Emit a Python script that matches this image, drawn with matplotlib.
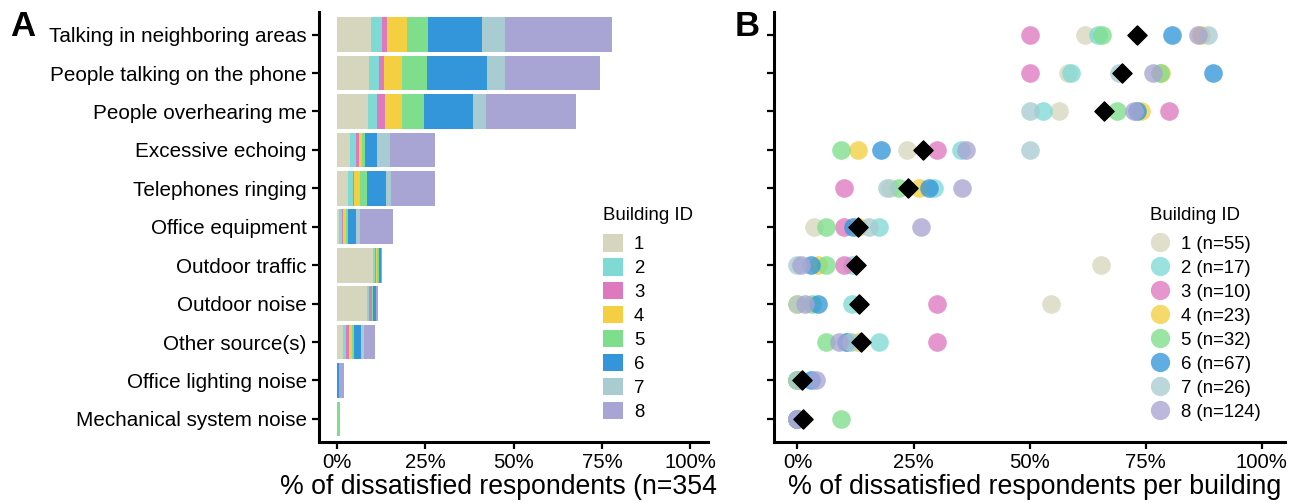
import matplotlib
matplotlib.use("Agg")
import matplotlib.pyplot as plt
from matplotlib.patches import Patch
from matplotlib.lines import Line2D
import numpy as np

plt.rcParams['font.family'] = ['Liberation Sans', 'DejaVu Sans']

# noise sources, top to bottom
sources = [
    "Talking in neighboring areas",
    "People talking on the phone",
    "People overhearing me",
    "Excessive echoing",
    "Telephones ringing",
    "Office equipment",
    "Outdoor traffic",
    "Outdoor noise",
    "Other source(s)",
    "Office lighting noise",
    "Mechanical system noise",
]

building_ids = ["1", "2", "3", "4", "5", "6", "7", "8"]
building_n = [55, 17, 10, 23, 32, 67, 26, 124]
building_colors = ["#D6D6BE", "#7FD9D4", "#DE79BF", "#F3CF41",
                   "#7EDE8B", "#3396DA", "#A8CCD1", "#A8A4D3"]

# dissatisfied respondents per source (rows) and building (columns 1..8)
dissatisfied_counts = [
    [34, 11, 5, 20, 21, 54, 23, 107],
    [32, 10, 5, 18, 25, 60, 18, 95],
    [31, 9, 8, 17, 22, 49, 13, 90],
    [13, 6, 3, 3, 3, 12, 13, 45],
    [11, 5, 1, 6, 7, 19, 5, 44],
    [2, 3, 1, 3, 2, 8, 4, 33],
    [36, 2, 1, 1, 2, 2, 0, 1],
    [30, 2, 3, 0, 1, 3, 0, 2],
    [6, 3, 3, 3, 2, 7, 3, 11],
    [0, 0, 0, 0, 0, 2, 0, 5],
    [0, 0, 0, 0, 3, 0, 0, 0],
]

counts = np.array(dissatisfied_counts, dtype=float)
n_total = sum(building_n)
pct_total = counts / n_total * 100
pct_building = counts / np.array(building_n) * 100
pct_mean = pct_building.mean(axis=1)

y = np.arange(len(sources))

fig = plt.figure(figsize=(13.03, 5.03), dpi=100)
axA = fig.add_axes([0.2451, 0.1213, 0.2983, 0.8557])
axB = fig.add_axes([0.5942, 0.1213, 0.3920, 0.8557])

# panel A: stacked bars
left = np.zeros(len(sources))
for j, bid in enumerate(building_ids):
    axA.barh(y, pct_total[:, j], left=left, height=0.9,
             color=building_colors[j], linewidth=0)
    left += pct_total[:, j]

# panel B: dots per building + mean diamond
for j, bid in enumerate(building_ids):
    axB.scatter(pct_building[:, j], y, s=180, color=building_colors[j],
                alpha=0.78, linewidths=0, zorder=2)
axB.scatter(pct_mean, y, marker='D', s=95, color='black', zorder=3)

ticks = [0, 25, 50, 75, 100]
for ax in (axA, axB):
    ax.set_xlim(-5, 105)
    ax.set_ylim(len(sources) - 0.4, -0.6)
    ax.set_xticks(ticks)
    ax.set_xticklabels([f"{t}%" for t in ticks])
    ax.set_yticks(y)
    for s in ('top', 'right'):
        ax.spines[s].set_visible(False)
    for s in ('left', 'bottom'):
        ax.spines[s].set_linewidth(2.2)
    ax.tick_params(axis='both', width=1.6, length=5, labelsize=14.6,
                   colors='black')
    ax.tick_params(axis='x', pad=3)

axA.set_yticklabels(sources, fontsize=14.9)
axA.tick_params(axis='y', pad=4)
axB.set_yticklabels([])

axA.set_xlabel("% of dissatisfied respondents (n=354", fontsize=19.2)
axA.xaxis.set_label_coords(0.46, -0.075, transform=axA.transAxes)
axA.xaxis.label.set_va('top')
axB.set_xlabel("% of dissatisfied respondents per building", fontsize=19.3,
               labelpad=3)
axB.xaxis.set_label_coords(0.51, -0.075, transform=axB.transAxes)
axB.xaxis.label.set_va('top')

fig.text(10 / 1303, 1 - 26 / 503, "A", fontsize=25, fontweight='bold',
         va='center', ha='left')
fig.text(735 / 1303, 1 - 26 / 503, "B", fontsize=25, fontweight='bold',
         va='center', ha='left')

# legends
leg_kw = dict(title="Building ID", loc='upper left',
              bbox_transform=fig.transFigure, frameon=False,
              fontsize=13.4, title_fontsize=13.4, borderpad=0,
              borderaxespad=0, handlelength=1.07, handleheight=1.04,
              handletextpad=0.6, labelspacing=0.27, alignment='left')

hA = [Patch(facecolor=c, edgecolor='none') for c in building_colors]
legA = axA.legend(hA, building_ids,
                  bbox_to_anchor=(603 / 1303, 1 - 207 / 503), **leg_kw)

hB = [Line2D([], [], marker='o', linestyle='none', markersize=13.9,
             markerfacecolor=c, markeredgewidth=0, alpha=0.78)
      for c in building_colors]
labB = [f"{b} (n={n})" for b, n in zip(building_ids, building_n)]
legB = axB.legend(hB, labB,
                  bbox_to_anchor=(1150 / 1303, 1 - 207 / 503), **leg_kw)

# a bit more room between legend title and the first key
for leg in (legA, legB):
    leg._legend_box.sep = 7.5

fig.savefig("out.png", dpi=100)
